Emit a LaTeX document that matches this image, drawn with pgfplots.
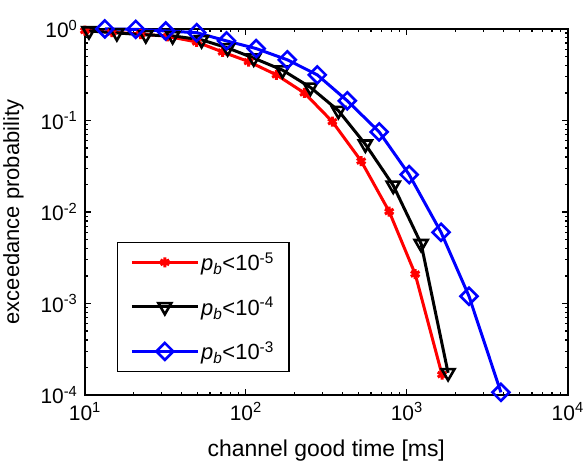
\documentclass[border=0pt]{standalone}
\usepackage{fontspec}
\setmainfont{Liberation Sans}
\usepackage{pgfplots}
\pgfplotsset{compat=1.18}

\pgfplotstableread{
x y
10.0 0.96
14.7 0.92
22.2 0.88
32.7 0.83
49.5 0.72
71.7 0.56
104 0.44
155 0.315
231 0.20
345 0.097
521 0.036
778 0.0101
1128 0.0021
1656 0.000167
}\redtab

\pgfplotstableread{
x y
10.6 0.95
15.8 0.905
23.9 0.86
35.1 0.84
53.1 0.76
77.1 0.62
112 0.48
169 0.355
252 0.23
376 0.128
553 0.055
824 0.0195
1228 0.0045
1806 0.000175
}\blacktab

\pgfplotstableread{
x y
13.3 1.0
20.7 0.99
31.8 0.95
49.5 0.91
75.9 0.74
116 0.61
181 0.46
278 0.315
427 0.164
674 0.075
1035 0.0256
1633 0.0060
2437 0.00120
3846 0.000107
}\bluetab

\begin{document}
\begin{tikzpicture}
\begin{axis}[
  name=ax,
  xmode=log, ymode=log,
  scale only axis, width=484pt, height=367pt,
  xmin=10, xmax=10000, ymin=1e-4, ymax=1,
  xtick={10,100,1000,10000},
  xticklabels={10\textsuperscript{1},10\textsuperscript{2},10\textsuperscript{3},10\textsuperscript{4}},
  ytick={1e-4,1e-3,1e-2,1e-1,1},
  yticklabels={10\textsuperscript{-4},10\textsuperscript{-3},10\textsuperscript{-2},10\textsuperscript{-1},10\textsuperscript{0}},
  minor xtick={20,30,40,50,60,70,80,90,200,300,400,500,600,700,800,900,2000,3000,4000,5000,6000,7000,8000,9000},
  minor ytick={2e-4,3e-4,4e-4,5e-4,6e-4,7e-4,8e-4,9e-4,2e-3,3e-3,4e-3,5e-3,6e-3,7e-3,8e-3,9e-3,2e-2,3e-2,4e-2,5e-2,6e-2,7e-2,8e-2,9e-2,0.2,0.3,0.4,0.5,0.6,0.7,0.8,0.9},
  tick align=inside,
  major tick length=6pt, minor tick length=3pt,
  axis line style={line width=1.8pt},
  tick style={line width=1.3pt, black},
  tick label style={font=\fontsize{21}{25}\selectfont},
  xticklabel style={yshift=-4pt},
  yticklabel style={xshift=-4pt},
  xlabel={channel good time [ms]},
  ylabel={exceedance probability},
  xlabel style={font=\fontsize{23}{27}\selectfont, at={(axis description cs:0.5,-0.168)}, anchor=base},
  ylabel style={font=\fontsize{22}{26}\selectfont, at={(axis description cs:-0.136,0.5)}, anchor=base, rotate=0},
  clip=false,
  legend style={at={(rel axis cs:0.066,0.063)}, anchor=south west, draw=black,
    line width=1.4pt, font=\fontsize{22}{26}\selectfont,
    inner xsep=13pt, inner ysep=8pt, row sep=21pt, cells={anchor=west}},
  legend image code/.code={\draw[mark repeat=2,mark phase=2] plot coordinates {(0pt,0pt)(33pt,0pt)(66pt,0pt)};},
]
\addplot[red, line width=3pt, mark=asterisk, mark size=5pt, mark options={line width=3pt, solid}] table {\redtab};
\addlegendentry{\textit{p}\textsubscript{\textit{b}}<10\textsuperscript{-5}}
\addplot[black, line width=3pt, mark=triangle, mark size=7.5pt, mark options={rotate=180, line width=2.6pt, solid}] table {\blacktab};
\addlegendentry{\textit{p}\textsubscript{\textit{b}}<10\textsuperscript{-4}}
\addplot[blue, line width=3pt, mark=square, mark size=6pt, mark options={rotate=45, line width=2.6pt, solid}] table {\bluetab};
\addlegendentry{\textit{p}\textsubscript{\textit{b}}<10\textsuperscript{-3}}
\end{axis}
\path[use as bounding box] ([shift={(-85pt,-64pt)}]ax.south west) rectangle ([shift={(18pt,29pt)}]ax.north east);
\end{tikzpicture}
\end{document}
